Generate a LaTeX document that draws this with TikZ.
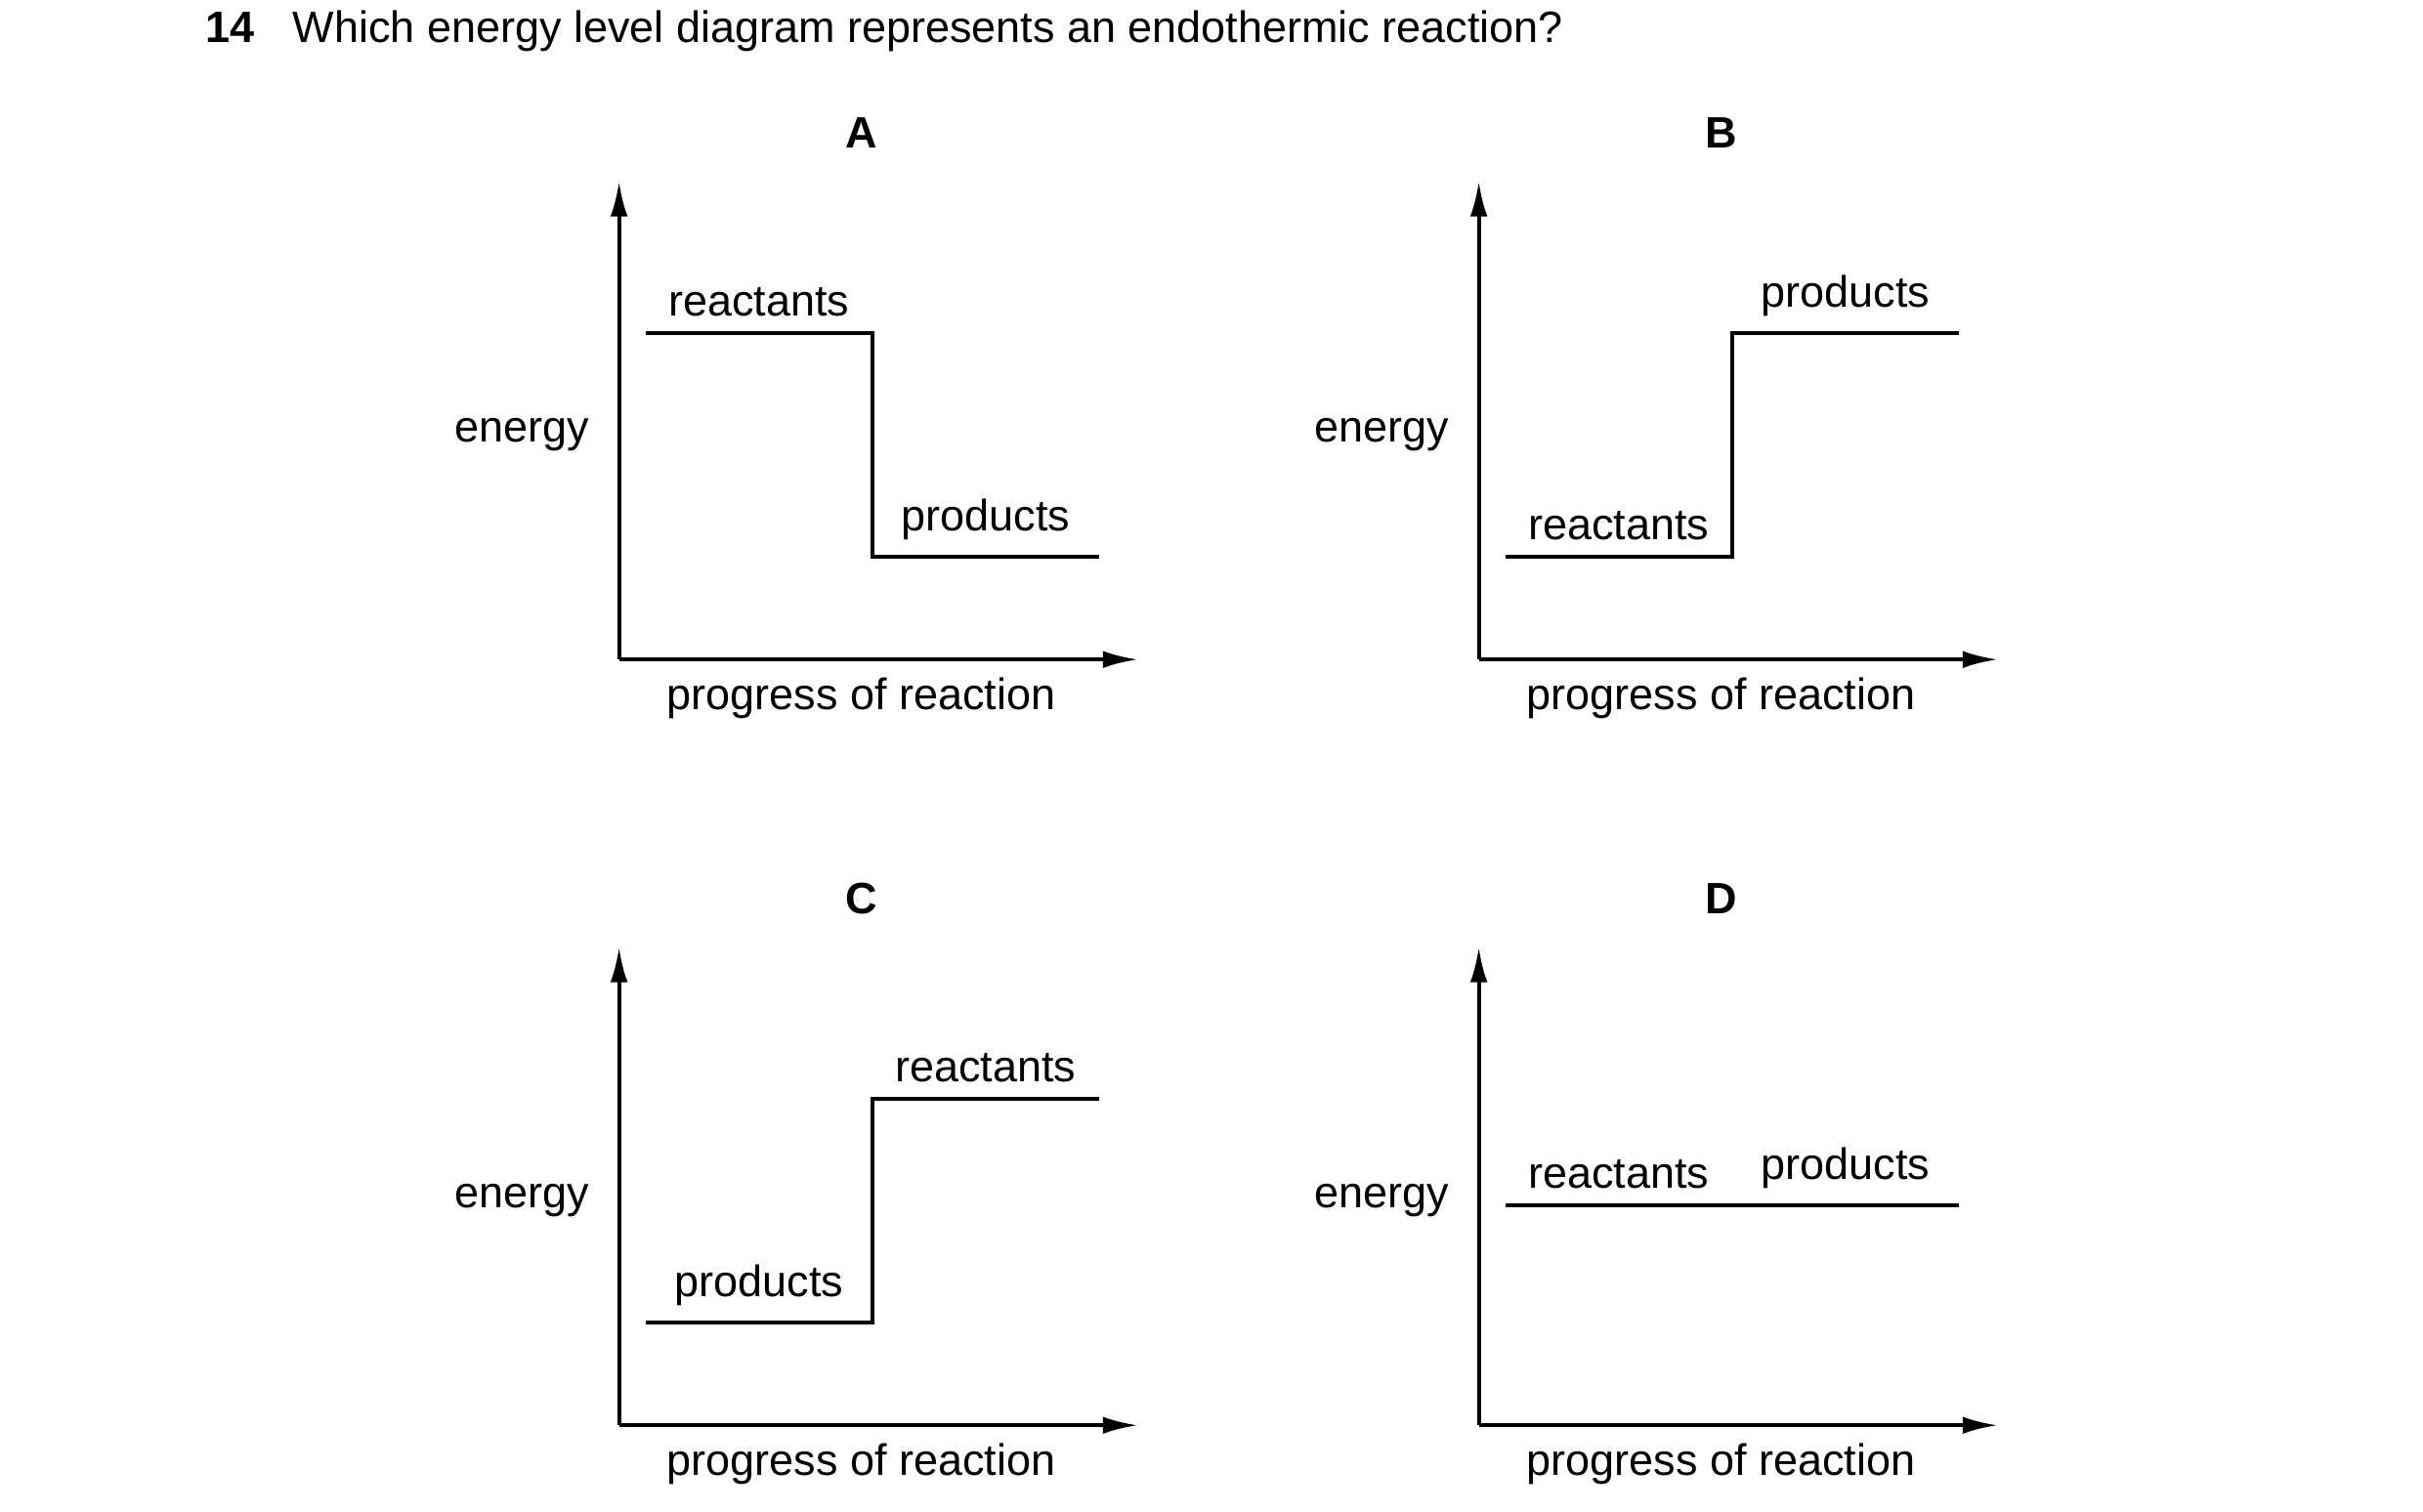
\documentclass[tikz,border=0pt]{standalone}
\usepackage{fontspec}
\setmainfont{Liberation Sans}
\usetikzlibrary{arrows.meta,calc}
\begin{document}
\begin{tikzpicture}[x=0.2mm,y=-0.2mm,
        axis/.style={line width=1.4pt,-{Latex[length=4.5mm,width=2.2mm]}},
        level/.style={line width=1.4pt},
        lbl/.style={font=\fontsize{16}{19}\selectfont,inner sep=0pt}]
\useasboundingbox (0,0) rectangle (1550,967);

\node[lbl,anchor=base west] (num) at (131,27) {\textbf{14}};
\node[lbl,anchor=base west] (question) at (187,27) {Which energy level diagram represents an endothermic reaction?};

\foreach \p/\dx/\dy/\lt/\rt/\ly/\ry in
    {A/0/0/reactants/products/213/356,
     B/550/0/reactants/products/356/213,
     C/0/490/products/reactants/356/213,
     D/550/490/reactants/products/281/281}{
  \begin{scope}[shift={(\dx,\dy)}]
    \coordinate (\p-O) at (396,422);
    \coordinate (\p-Y) at (396,116);
    \coordinate (\p-X) at (728,422);
    \draw[axis] (\p-O) -- (\p-Y);
    \draw[axis] (\p-O) -- (\p-X);
    \coordinate (\p-l1) at (413,\ly);
    \coordinate (\p-l2) at (558,\ly);
    \coordinate (\p-r1) at (558,\ry);
    \coordinate (\p-r2) at (703,\ry);
    \draw[level] (\p-l1) -- (\p-l2) -- (\p-r1) -- (\p-r2);
    \node[lbl,anchor=south] (\p-lt) at ($(\p-l1)!0.5!(\p-l2)+(0,-10)$) {\lt};
    \node[lbl,anchor=south] (\p-rt) at ($(\p-r1)!0.5!(\p-r2)+(0,-10)$) {\rt};
    \node[lbl] (\p-energy) at (334,278) {energy};
    \node[lbl] (\p-progress) at (551,447) {progress of reaction};
    \node[lbl] (\p-title) at (551,85) {\textbf{\p}};
  \end{scope}
}
\end{tikzpicture}
\end{document}
